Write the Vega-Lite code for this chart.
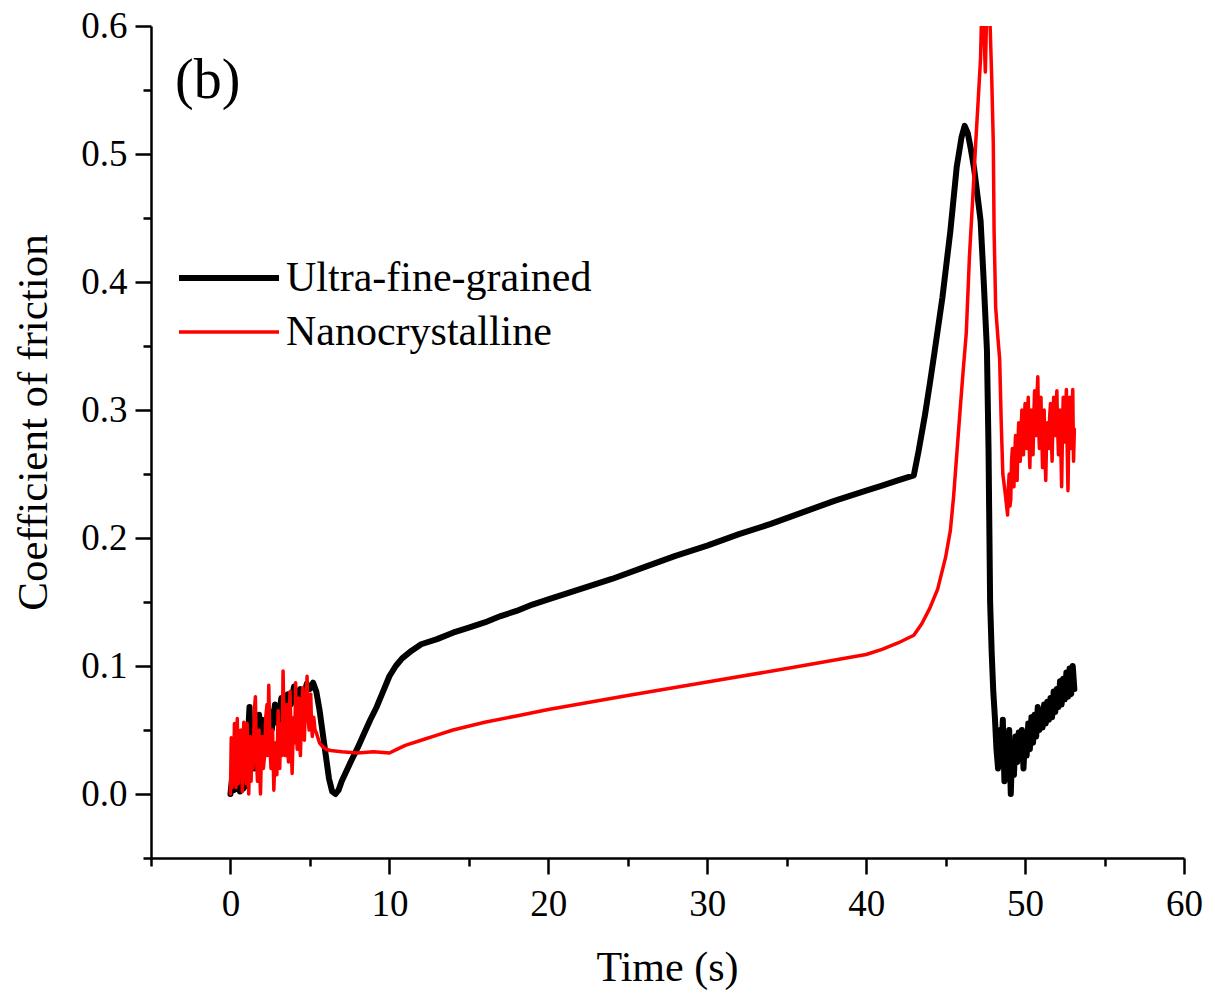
{
  "$schema": "https://vega.github.io/schema/vega-lite/v6.json",
  "autosize": "none",
  "width": 1033,
  "height": 832,
  "padding": {"left": 151, "top": 26, "right": 31, "bottom": 138},
  "background": "white",
  "title": {
    "text": "(b)",
    "anchor": "start",
    "frame": "group",
    "orient": "top",
    "offset": -70,
    "baseline": "alphabetic",
    "dx": 24,
    "dy": 77,
    "font": "Liberation Serif",
    "fontSize": 56,
    "fontWeight": "normal",
    "color": "black"
  },
  "config": {
    "font": "Liberation Serif",
    "view": {"stroke": null},
    "title": {"font": "Liberation Serif", "fontWeight": "normal"},
    "axis": {
      "grid": false,
      "domainColor": "black",
      "domainWidth": 2.5,
      "tickColor": "black",
      "tickWidth": 2.5,
      "labelFont": "Liberation Serif",
      "labelFontSize": 37,
      "labelColor": "black",
      "titleFont": "Liberation Serif",
      "titleFontWeight": "normal",
      "titleColor": "black"
    },
    "legend": {"labelFont": "Liberation Serif"}
  },
  "datasets": {
    "friction": [
      {"t": 0.0, "mu": 0.0, "s": "Ultra-fine-grained"},
      {"t": 0.1, "mu": 0.012, "s": "Ultra-fine-grained"},
      {"t": 0.2, "mu": 0.003, "s": "Ultra-fine-grained"},
      {"t": 0.3, "mu": 0.02, "s": "Ultra-fine-grained"},
      {"t": 0.4, "mu": 0.004, "s": "Ultra-fine-grained"},
      {"t": 0.5, "mu": 0.025, "s": "Ultra-fine-grained"},
      {"t": 0.6, "mu": 0.002, "s": "Ultra-fine-grained"},
      {"t": 0.7, "mu": 0.018, "s": "Ultra-fine-grained"},
      {"t": 0.8, "mu": 0.004, "s": "Ultra-fine-grained"},
      {"t": 0.9, "mu": 0.03, "s": "Ultra-fine-grained"},
      {"t": 1.0, "mu": 0.006, "s": "Ultra-fine-grained"},
      {"t": 1.1, "mu": 0.045, "s": "Ultra-fine-grained"},
      {"t": 1.2, "mu": 0.068, "s": "Ultra-fine-grained"},
      {"t": 1.3, "mu": 0.03, "s": "Ultra-fine-grained"},
      {"t": 1.4, "mu": 0.055, "s": "Ultra-fine-grained"},
      {"t": 1.5, "mu": 0.02, "s": "Ultra-fine-grained"},
      {"t": 1.6, "mu": 0.05, "s": "Ultra-fine-grained"},
      {"t": 1.7, "mu": 0.035, "s": "Ultra-fine-grained"},
      {"t": 1.8, "mu": 0.062, "s": "Ultra-fine-grained"},
      {"t": 1.9, "mu": 0.04, "s": "Ultra-fine-grained"},
      {"t": 2.0, "mu": 0.058, "s": "Ultra-fine-grained"},
      {"t": 2.2, "mu": 0.045, "s": "Ultra-fine-grained"},
      {"t": 2.4, "mu": 0.065, "s": "Ultra-fine-grained"},
      {"t": 2.6, "mu": 0.05, "s": "Ultra-fine-grained"},
      {"t": 2.8, "mu": 0.07, "s": "Ultra-fine-grained"},
      {"t": 3.0, "mu": 0.055, "s": "Ultra-fine-grained"},
      {"t": 3.2, "mu": 0.075, "s": "Ultra-fine-grained"},
      {"t": 3.4, "mu": 0.06, "s": "Ultra-fine-grained"},
      {"t": 3.6, "mu": 0.078, "s": "Ultra-fine-grained"},
      {"t": 3.8, "mu": 0.07, "s": "Ultra-fine-grained"},
      {"t": 4.0, "mu": 0.084, "s": "Ultra-fine-grained"},
      {"t": 4.2, "mu": 0.072, "s": "Ultra-fine-grained"},
      {"t": 4.4, "mu": 0.082, "s": "Ultra-fine-grained"},
      {"t": 4.6, "mu": 0.076, "s": "Ultra-fine-grained"},
      {"t": 4.8, "mu": 0.086, "s": "Ultra-fine-grained"},
      {"t": 5.0, "mu": 0.082, "s": "Ultra-fine-grained"},
      {"t": 5.2, "mu": 0.087, "s": "Ultra-fine-grained"},
      {"t": 5.4, "mu": 0.08, "s": "Ultra-fine-grained"},
      {"t": 5.6, "mu": 0.066, "s": "Ultra-fine-grained"},
      {"t": 5.8, "mu": 0.048, "s": "Ultra-fine-grained"},
      {"t": 6.0, "mu": 0.03, "s": "Ultra-fine-grained"},
      {"t": 6.2, "mu": 0.012, "s": "Ultra-fine-grained"},
      {"t": 6.4, "mu": 0.002, "s": "Ultra-fine-grained"},
      {"t": 6.6, "mu": 0.0, "s": "Ultra-fine-grained"},
      {"t": 6.8, "mu": 0.003, "s": "Ultra-fine-grained"},
      {"t": 7.0, "mu": 0.01, "s": "Ultra-fine-grained"},
      {"t": 7.3, "mu": 0.018, "s": "Ultra-fine-grained"},
      {"t": 7.6, "mu": 0.026, "s": "Ultra-fine-grained"},
      {"t": 8.0, "mu": 0.036, "s": "Ultra-fine-grained"},
      {"t": 8.4, "mu": 0.047, "s": "Ultra-fine-grained"},
      {"t": 8.8, "mu": 0.058, "s": "Ultra-fine-grained"},
      {"t": 9.2, "mu": 0.068, "s": "Ultra-fine-grained"},
      {"t": 9.6, "mu": 0.08, "s": "Ultra-fine-grained"},
      {"t": 10.0, "mu": 0.092, "s": "Ultra-fine-grained"},
      {"t": 10.4, "mu": 0.1, "s": "Ultra-fine-grained"},
      {"t": 10.8, "mu": 0.106, "s": "Ultra-fine-grained"},
      {"t": 11.4, "mu": 0.112, "s": "Ultra-fine-grained"},
      {"t": 12.0, "mu": 0.117, "s": "Ultra-fine-grained"},
      {"t": 13.0, "mu": 0.121, "s": "Ultra-fine-grained"},
      {"t": 14.0, "mu": 0.126, "s": "Ultra-fine-grained"},
      {"t": 15.0, "mu": 0.13, "s": "Ultra-fine-grained"},
      {"t": 16.0, "mu": 0.134, "s": "Ultra-fine-grained"},
      {"t": 17.0, "mu": 0.139, "s": "Ultra-fine-grained"},
      {"t": 18.0, "mu": 0.143, "s": "Ultra-fine-grained"},
      {"t": 19.0, "mu": 0.148, "s": "Ultra-fine-grained"},
      {"t": 20.0, "mu": 0.152, "s": "Ultra-fine-grained"},
      {"t": 22.0, "mu": 0.16, "s": "Ultra-fine-grained"},
      {"t": 24.0, "mu": 0.168, "s": "Ultra-fine-grained"},
      {"t": 26.0, "mu": 0.177, "s": "Ultra-fine-grained"},
      {"t": 28.0, "mu": 0.186, "s": "Ultra-fine-grained"},
      {"t": 30.0, "mu": 0.194, "s": "Ultra-fine-grained"},
      {"t": 32.0, "mu": 0.203, "s": "Ultra-fine-grained"},
      {"t": 34.0, "mu": 0.211, "s": "Ultra-fine-grained"},
      {"t": 36.0, "mu": 0.22, "s": "Ultra-fine-grained"},
      {"t": 38.0, "mu": 0.229, "s": "Ultra-fine-grained"},
      {"t": 40.0, "mu": 0.237, "s": "Ultra-fine-grained"},
      {"t": 41.0, "mu": 0.241, "s": "Ultra-fine-grained"},
      {"t": 42.0, "mu": 0.245, "s": "Ultra-fine-grained"},
      {"t": 43.0, "mu": 0.249, "s": "Ultra-fine-grained"},
      {"t": 43.3, "mu": 0.268, "s": "Ultra-fine-grained"},
      {"t": 43.7, "mu": 0.296, "s": "Ultra-fine-grained"},
      {"t": 44.0, "mu": 0.32, "s": "Ultra-fine-grained"},
      {"t": 44.3, "mu": 0.345, "s": "Ultra-fine-grained"},
      {"t": 44.8, "mu": 0.388, "s": "Ultra-fine-grained"},
      {"t": 45.3, "mu": 0.44, "s": "Ultra-fine-grained"},
      {"t": 45.7, "mu": 0.49, "s": "Ultra-fine-grained"},
      {"t": 46.0, "mu": 0.513, "s": "Ultra-fine-grained"},
      {"t": 46.2, "mu": 0.522, "s": "Ultra-fine-grained"},
      {"t": 46.4, "mu": 0.516, "s": "Ultra-fine-grained"},
      {"t": 46.6, "mu": 0.503, "s": "Ultra-fine-grained"},
      {"t": 46.8, "mu": 0.488, "s": "Ultra-fine-grained"},
      {"t": 47.0, "mu": 0.468, "s": "Ultra-fine-grained"},
      {"t": 47.2, "mu": 0.448, "s": "Ultra-fine-grained"},
      {"t": 47.4, "mu": 0.4, "s": "Ultra-fine-grained"},
      {"t": 47.6, "mu": 0.347, "s": "Ultra-fine-grained"},
      {"t": 47.7, "mu": 0.27, "s": "Ultra-fine-grained"},
      {"t": 47.8, "mu": 0.15, "s": "Ultra-fine-grained"},
      {"t": 47.9, "mu": 0.11, "s": "Ultra-fine-grained"},
      {"t": 48.0, "mu": 0.08, "s": "Ultra-fine-grained"},
      {"t": 48.1, "mu": 0.06, "s": "Ultra-fine-grained"},
      {"t": 48.2, "mu": 0.035, "s": "Ultra-fine-grained"},
      {"t": 48.3, "mu": 0.02, "s": "Ultra-fine-grained"},
      {"t": 48.4, "mu": 0.05, "s": "Ultra-fine-grained"},
      {"t": 48.5, "mu": 0.03, "s": "Ultra-fine-grained"},
      {"t": 48.6, "mu": 0.058, "s": "Ultra-fine-grained"},
      {"t": 48.7, "mu": 0.01, "s": "Ultra-fine-grained"},
      {"t": 48.8, "mu": 0.045, "s": "Ultra-fine-grained"},
      {"t": 48.9, "mu": 0.02, "s": "Ultra-fine-grained"},
      {"t": 49.0, "mu": 0.05, "s": "Ultra-fine-grained"},
      {"t": 49.1, "mu": 0.0, "s": "Ultra-fine-grained"},
      {"t": 49.2, "mu": 0.04, "s": "Ultra-fine-grained"},
      {"t": 49.3, "mu": 0.015, "s": "Ultra-fine-grained"},
      {"t": 49.4, "mu": 0.045, "s": "Ultra-fine-grained"},
      {"t": 49.5, "mu": 0.025, "s": "Ultra-fine-grained"},
      {"t": 49.6, "mu": 0.048, "s": "Ultra-fine-grained"},
      {"t": 49.7, "mu": 0.03, "s": "Ultra-fine-grained"},
      {"t": 49.8, "mu": 0.05, "s": "Ultra-fine-grained"},
      {"t": 49.9, "mu": 0.02, "s": "Ultra-fine-grained"},
      {"t": 50.0, "mu": 0.045, "s": "Ultra-fine-grained"},
      {"t": 50.1, "mu": 0.03, "s": "Ultra-fine-grained"},
      {"t": 50.2, "mu": 0.055, "s": "Ultra-fine-grained"},
      {"t": 50.3, "mu": 0.035, "s": "Ultra-fine-grained"},
      {"t": 50.4, "mu": 0.06, "s": "Ultra-fine-grained"},
      {"t": 50.5, "mu": 0.04, "s": "Ultra-fine-grained"},
      {"t": 50.6, "mu": 0.062, "s": "Ultra-fine-grained"},
      {"t": 50.7, "mu": 0.045, "s": "Ultra-fine-grained"},
      {"t": 50.8, "mu": 0.068, "s": "Ultra-fine-grained"},
      {"t": 50.9, "mu": 0.05, "s": "Ultra-fine-grained"},
      {"t": 51.0, "mu": 0.065, "s": "Ultra-fine-grained"},
      {"t": 51.1, "mu": 0.052, "s": "Ultra-fine-grained"},
      {"t": 51.2, "mu": 0.07, "s": "Ultra-fine-grained"},
      {"t": 51.3, "mu": 0.055, "s": "Ultra-fine-grained"},
      {"t": 51.4, "mu": 0.072, "s": "Ultra-fine-grained"},
      {"t": 51.5, "mu": 0.058, "s": "Ultra-fine-grained"},
      {"t": 51.6, "mu": 0.075, "s": "Ultra-fine-grained"},
      {"t": 51.7, "mu": 0.06, "s": "Ultra-fine-grained"},
      {"t": 51.8, "mu": 0.08, "s": "Ultra-fine-grained"},
      {"t": 51.9, "mu": 0.064, "s": "Ultra-fine-grained"},
      {"t": 52.0, "mu": 0.082, "s": "Ultra-fine-grained"},
      {"t": 52.1, "mu": 0.068, "s": "Ultra-fine-grained"},
      {"t": 52.2, "mu": 0.088, "s": "Ultra-fine-grained"},
      {"t": 52.3, "mu": 0.07, "s": "Ultra-fine-grained"},
      {"t": 52.4, "mu": 0.09, "s": "Ultra-fine-grained"},
      {"t": 52.5, "mu": 0.074, "s": "Ultra-fine-grained"},
      {"t": 52.6, "mu": 0.095, "s": "Ultra-fine-grained"},
      {"t": 52.7, "mu": 0.076, "s": "Ultra-fine-grained"},
      {"t": 52.8, "mu": 0.098, "s": "Ultra-fine-grained"},
      {"t": 52.9, "mu": 0.078, "s": "Ultra-fine-grained"},
      {"t": 53.0, "mu": 0.1, "s": "Ultra-fine-grained"},
      {"t": 53.1, "mu": 0.082, "s": "Ultra-fine-grained"},

      {"t": 0.0, "mu": 0.0, "s": "Nanocrystalline"},
      {"t": 0.05, "mu": 0.044, "s": "Nanocrystalline"},
      {"t": 0.1, "mu": 0.005, "s": "Nanocrystalline"},
      {"t": 0.15, "mu": 0.04, "s": "Nanocrystalline"},
      {"t": 0.2, "mu": 0.01, "s": "Nanocrystalline"},
      {"t": 0.25, "mu": 0.055, "s": "Nanocrystalline"},
      {"t": 0.3, "mu": 0.015, "s": "Nanocrystalline"},
      {"t": 0.35, "mu": 0.005, "s": "Nanocrystalline"},
      {"t": 0.43, "mu": 0.059, "s": "Nanocrystalline"},
      {"t": 0.49, "mu": 0.008, "s": "Nanocrystalline"},
      {"t": 0.55, "mu": 0.045, "s": "Nanocrystalline"},
      {"t": 0.6, "mu": 0.015, "s": "Nanocrystalline"},
      {"t": 0.65, "mu": 0.05, "s": "Nanocrystalline"},
      {"t": 0.7, "mu": 0.02, "s": "Nanocrystalline"},
      {"t": 0.75, "mu": 0.002, "s": "Nanocrystalline"},
      {"t": 0.8, "mu": 0.04, "s": "Nanocrystalline"},
      {"t": 0.84, "mu": 0.056, "s": "Nanocrystalline"},
      {"t": 0.9, "mu": 0.012, "s": "Nanocrystalline"},
      {"t": 0.95, "mu": 0.035, "s": "Nanocrystalline"},
      {"t": 1.0, "mu": 0.008, "s": "Nanocrystalline"},
      {"t": 1.05, "mu": 0.055, "s": "Nanocrystalline"},
      {"t": 1.1, "mu": 0.02, "s": "Nanocrystalline"},
      {"t": 1.15, "mu": 0.0, "s": "Nanocrystalline"},
      {"t": 1.2, "mu": 0.03, "s": "Nanocrystalline"},
      {"t": 1.25, "mu": 0.045, "s": "Nanocrystalline"},
      {"t": 1.3, "mu": 0.01, "s": "Nanocrystalline"},
      {"t": 1.35, "mu": 0.04, "s": "Nanocrystalline"},
      {"t": 1.42, "mu": 0.02, "s": "Nanocrystalline"},
      {"t": 1.5, "mu": 0.065, "s": "Nanocrystalline"},
      {"t": 1.57, "mu": 0.076, "s": "Nanocrystalline"},
      {"t": 1.63, "mu": 0.03, "s": "Nanocrystalline"},
      {"t": 1.7, "mu": 0.01, "s": "Nanocrystalline"},
      {"t": 1.75, "mu": 0.04, "s": "Nanocrystalline"},
      {"t": 1.8, "mu": 0.05, "s": "Nanocrystalline"},
      {"t": 1.85, "mu": 0.015, "s": "Nanocrystalline"},
      {"t": 1.89, "mu": 0.0, "s": "Nanocrystalline"},
      {"t": 1.95, "mu": 0.035, "s": "Nanocrystalline"},
      {"t": 2.0, "mu": 0.045, "s": "Nanocrystalline"},
      {"t": 2.07, "mu": 0.02, "s": "Nanocrystalline"},
      {"t": 2.15, "mu": 0.03, "s": "Nanocrystalline"},
      {"t": 2.22, "mu": 0.06, "s": "Nanocrystalline"},
      {"t": 2.3, "mu": 0.07, "s": "Nanocrystalline"},
      {"t": 2.35, "mu": 0.03, "s": "Nanocrystalline"},
      {"t": 2.41, "mu": 0.085, "s": "Nanocrystalline"},
      {"t": 2.48, "mu": 0.04, "s": "Nanocrystalline"},
      {"t": 2.55, "mu": 0.02, "s": "Nanocrystalline"},
      {"t": 2.6, "mu": 0.045, "s": "Nanocrystalline"},
      {"t": 2.65, "mu": 0.05, "s": "Nanocrystalline"},
      {"t": 2.73, "mu": 0.003, "s": "Nanocrystalline"},
      {"t": 2.8, "mu": 0.03, "s": "Nanocrystalline"},
      {"t": 2.85, "mu": 0.04, "s": "Nanocrystalline"},
      {"t": 2.92, "mu": 0.015, "s": "Nanocrystalline"},
      {"t": 3.0, "mu": 0.065, "s": "Nanocrystalline"},
      {"t": 3.05, "mu": 0.035, "s": "Nanocrystalline"},
      {"t": 3.1, "mu": 0.02, "s": "Nanocrystalline"},
      {"t": 3.15, "mu": 0.05, "s": "Nanocrystalline"},
      {"t": 3.2, "mu": 0.055, "s": "Nanocrystalline"},
      {"t": 3.25, "mu": 0.03, "s": "Nanocrystalline"},
      {"t": 3.31, "mu": 0.096, "s": "Nanocrystalline"},
      {"t": 3.38, "mu": 0.05, "s": "Nanocrystalline"},
      {"t": 3.45, "mu": 0.03, "s": "Nanocrystalline"},
      {"t": 3.5, "mu": 0.06, "s": "Nanocrystalline"},
      {"t": 3.55, "mu": 0.07, "s": "Nanocrystalline"},
      {"t": 3.6, "mu": 0.04, "s": "Nanocrystalline"},
      {"t": 3.65, "mu": 0.025, "s": "Nanocrystalline"},
      {"t": 3.7, "mu": 0.06, "s": "Nanocrystalline"},
      {"t": 3.75, "mu": 0.08, "s": "Nanocrystalline"},
      {"t": 3.82, "mu": 0.04, "s": "Nanocrystalline"},
      {"t": 3.88, "mu": 0.016, "s": "Nanocrystalline"},
      {"t": 3.94, "mu": 0.045, "s": "Nanocrystalline"},
      {"t": 4.0, "mu": 0.06, "s": "Nanocrystalline"},
      {"t": 4.05, "mu": 0.04, "s": "Nanocrystalline"},
      {"t": 4.1, "mu": 0.087, "s": "Nanocrystalline"},
      {"t": 4.15, "mu": 0.05, "s": "Nanocrystalline"},
      {"t": 4.2, "mu": 0.035, "s": "Nanocrystalline"},
      {"t": 4.25, "mu": 0.06, "s": "Nanocrystalline"},
      {"t": 4.3, "mu": 0.075, "s": "Nanocrystalline"},
      {"t": 4.35, "mu": 0.045, "s": "Nanocrystalline"},
      {"t": 4.4, "mu": 0.03, "s": "Nanocrystalline"},
      {"t": 4.47, "mu": 0.06, "s": "Nanocrystalline"},
      {"t": 4.55, "mu": 0.083, "s": "Nanocrystalline"},
      {"t": 4.6, "mu": 0.055, "s": "Nanocrystalline"},
      {"t": 4.65, "mu": 0.042, "s": "Nanocrystalline"},
      {"t": 4.7, "mu": 0.065, "s": "Nanocrystalline"},
      {"t": 4.75, "mu": 0.07, "s": "Nanocrystalline"},
      {"t": 4.82, "mu": 0.092, "s": "Nanocrystalline"},
      {"t": 4.88, "mu": 0.06, "s": "Nanocrystalline"},
      {"t": 4.95, "mu": 0.05, "s": "Nanocrystalline"},
      {"t": 5.0, "mu": 0.07, "s": "Nanocrystalline"},
      {"t": 5.05, "mu": 0.078, "s": "Nanocrystalline"},
      {"t": 5.1, "mu": 0.055, "s": "Nanocrystalline"},
      {"t": 5.15, "mu": 0.045, "s": "Nanocrystalline"},
      {"t": 5.24, "mu": 0.06, "s": "Nanocrystalline"},
      {"t": 5.32, "mu": 0.05, "s": "Nanocrystalline"},
      {"t": 5.4, "mu": 0.048, "s": "Nanocrystalline"},
      {"t": 5.6, "mu": 0.04, "s": "Nanocrystalline"},
      {"t": 5.8, "mu": 0.037, "s": "Nanocrystalline"},
      {"t": 6.0, "mu": 0.035, "s": "Nanocrystalline"},
      {"t": 6.3, "mu": 0.034, "s": "Nanocrystalline"},
      {"t": 7.0, "mu": 0.033, "s": "Nanocrystalline"},
      {"t": 8.0, "mu": 0.032, "s": "Nanocrystalline"},
      {"t": 9.0, "mu": 0.033, "s": "Nanocrystalline"},
      {"t": 10.0, "mu": 0.032, "s": "Nanocrystalline"},
      {"t": 10.5, "mu": 0.035, "s": "Nanocrystalline"},
      {"t": 11.0, "mu": 0.038, "s": "Nanocrystalline"},
      {"t": 12.0, "mu": 0.042, "s": "Nanocrystalline"},
      {"t": 13.0, "mu": 0.046, "s": "Nanocrystalline"},
      {"t": 14.0, "mu": 0.05, "s": "Nanocrystalline"},
      {"t": 16.0, "mu": 0.056, "s": "Nanocrystalline"},
      {"t": 18.0, "mu": 0.061, "s": "Nanocrystalline"},
      {"t": 20.0, "mu": 0.066, "s": "Nanocrystalline"},
      {"t": 25.0, "mu": 0.077, "s": "Nanocrystalline"},
      {"t": 30.0, "mu": 0.0875, "s": "Nanocrystalline"},
      {"t": 35.0, "mu": 0.098, "s": "Nanocrystalline"},
      {"t": 40.0, "mu": 0.109, "s": "Nanocrystalline"},
      {"t": 41.0, "mu": 0.113, "s": "Nanocrystalline"},
      {"t": 42.0, "mu": 0.118, "s": "Nanocrystalline"},
      {"t": 43.0, "mu": 0.124, "s": "Nanocrystalline"},
      {"t": 43.5, "mu": 0.133, "s": "Nanocrystalline"},
      {"t": 44.0, "mu": 0.145, "s": "Nanocrystalline"},
      {"t": 44.5, "mu": 0.16, "s": "Nanocrystalline"},
      {"t": 45.0, "mu": 0.185, "s": "Nanocrystalline"},
      {"t": 45.3, "mu": 0.206, "s": "Nanocrystalline"},
      {"t": 45.5, "mu": 0.232, "s": "Nanocrystalline"},
      {"t": 45.7, "mu": 0.265, "s": "Nanocrystalline"},
      {"t": 45.9, "mu": 0.298, "s": "Nanocrystalline"},
      {"t": 46.1, "mu": 0.33, "s": "Nanocrystalline"},
      {"t": 46.3, "mu": 0.36, "s": "Nanocrystalline"},
      {"t": 46.5, "mu": 0.42, "s": "Nanocrystalline"},
      {"t": 46.7, "mu": 0.464, "s": "Nanocrystalline"},
      {"t": 46.9, "mu": 0.51, "s": "Nanocrystalline"},
      {"t": 47.05, "mu": 0.542, "s": "Nanocrystalline"},
      {"t": 47.2, "mu": 0.575, "s": "Nanocrystalline"},
      {"t": 47.3, "mu": 0.63, "s": "Nanocrystalline"},
      {"t": 47.4, "mu": 0.6, "s": "Nanocrystalline"},
      {"t": 47.5, "mu": 0.564, "s": "Nanocrystalline"},
      {"t": 47.6, "mu": 0.62, "s": "Nanocrystalline"},
      {"t": 47.7, "mu": 0.64, "s": "Nanocrystalline"},
      {"t": 47.8, "mu": 0.6, "s": "Nanocrystalline"},
      {"t": 47.9, "mu": 0.56, "s": "Nanocrystalline"},
      {"t": 48.0, "mu": 0.509, "s": "Nanocrystalline"},
      {"t": 48.05, "mu": 0.44, "s": "Nanocrystalline"},
      {"t": 48.15, "mu": 0.38, "s": "Nanocrystalline"},
      {"t": 48.3, "mu": 0.355, "s": "Nanocrystalline"},
      {"t": 48.4, "mu": 0.34, "s": "Nanocrystalline"},
      {"t": 48.5, "mu": 0.29, "s": "Nanocrystalline"},
      {"t": 48.6, "mu": 0.25, "s": "Nanocrystalline"},
      {"t": 48.75, "mu": 0.235, "s": "Nanocrystalline"},
      {"t": 48.9, "mu": 0.218, "s": "Nanocrystalline"},
      {"t": 48.95, "mu": 0.24, "s": "Nanocrystalline"},
      {"t": 49.0, "mu": 0.25, "s": "Nanocrystalline"},
      {"t": 49.05, "mu": 0.225, "s": "Nanocrystalline"},
      {"t": 49.1, "mu": 0.23, "s": "Nanocrystalline"},
      {"t": 49.15, "mu": 0.26, "s": "Nanocrystalline"},
      {"t": 49.2, "mu": 0.27, "s": "Nanocrystalline"},
      {"t": 49.25, "mu": 0.25, "s": "Nanocrystalline"},
      {"t": 49.3, "mu": 0.24, "s": "Nanocrystalline"},
      {"t": 49.35, "mu": 0.265, "s": "Nanocrystalline"},
      {"t": 49.4, "mu": 0.28, "s": "Nanocrystalline"},
      {"t": 49.45, "mu": 0.26, "s": "Nanocrystalline"},
      {"t": 49.5, "mu": 0.245, "s": "Nanocrystalline"},
      {"t": 49.55, "mu": 0.275, "s": "Nanocrystalline"},
      {"t": 49.6, "mu": 0.29, "s": "Nanocrystalline"},
      {"t": 49.65, "mu": 0.27, "s": "Nanocrystalline"},
      {"t": 49.7, "mu": 0.26, "s": "Nanocrystalline"},
      {"t": 49.75, "mu": 0.285, "s": "Nanocrystalline"},
      {"t": 49.8, "mu": 0.3, "s": "Nanocrystalline"},
      {"t": 49.85, "mu": 0.27, "s": "Nanocrystalline"},
      {"t": 49.9, "mu": 0.265, "s": "Nanocrystalline"},
      {"t": 49.95, "mu": 0.29, "s": "Nanocrystalline"},
      {"t": 50.0, "mu": 0.305, "s": "Nanocrystalline"},
      {"t": 50.05, "mu": 0.28, "s": "Nanocrystalline"},
      {"t": 50.1, "mu": 0.27, "s": "Nanocrystalline"},
      {"t": 50.15, "mu": 0.295, "s": "Nanocrystalline"},
      {"t": 50.2, "mu": 0.31, "s": "Nanocrystalline"},
      {"t": 50.25, "mu": 0.275, "s": "Nanocrystalline"},
      {"t": 50.3, "mu": 0.255, "s": "Nanocrystalline"},
      {"t": 50.35, "mu": 0.285, "s": "Nanocrystalline"},
      {"t": 50.4, "mu": 0.3, "s": "Nanocrystalline"},
      {"t": 50.45, "mu": 0.28, "s": "Nanocrystalline"},
      {"t": 50.5, "mu": 0.265, "s": "Nanocrystalline"},
      {"t": 50.55, "mu": 0.295, "s": "Nanocrystalline"},
      {"t": 50.6, "mu": 0.315, "s": "Nanocrystalline"},
      {"t": 50.65, "mu": 0.29, "s": "Nanocrystalline"},
      {"t": 50.7, "mu": 0.28, "s": "Nanocrystalline"},
      {"t": 50.75, "mu": 0.31, "s": "Nanocrystalline"},
      {"t": 50.8, "mu": 0.326, "s": "Nanocrystalline"},
      {"t": 50.85, "mu": 0.29, "s": "Nanocrystalline"},
      {"t": 50.9, "mu": 0.27, "s": "Nanocrystalline"},
      {"t": 50.95, "mu": 0.295, "s": "Nanocrystalline"},
      {"t": 51.0, "mu": 0.31, "s": "Nanocrystalline"},
      {"t": 51.05, "mu": 0.28, "s": "Nanocrystalline"},
      {"t": 51.1, "mu": 0.255, "s": "Nanocrystalline"},
      {"t": 51.15, "mu": 0.285, "s": "Nanocrystalline"},
      {"t": 51.2, "mu": 0.3, "s": "Nanocrystalline"},
      {"t": 51.25, "mu": 0.27, "s": "Nanocrystalline"},
      {"t": 51.3, "mu": 0.245, "s": "Nanocrystalline"},
      {"t": 51.35, "mu": 0.275, "s": "Nanocrystalline"},
      {"t": 51.4, "mu": 0.29, "s": "Nanocrystalline"},
      {"t": 51.45, "mu": 0.285, "s": "Nanocrystalline"},
      {"t": 51.5, "mu": 0.27, "s": "Nanocrystalline"},
      {"t": 51.55, "mu": 0.295, "s": "Nanocrystalline"},
      {"t": 51.6, "mu": 0.305, "s": "Nanocrystalline"},
      {"t": 51.65, "mu": 0.28, "s": "Nanocrystalline"},
      {"t": 51.7, "mu": 0.26, "s": "Nanocrystalline"},
      {"t": 51.75, "mu": 0.29, "s": "Nanocrystalline"},
      {"t": 51.8, "mu": 0.31, "s": "Nanocrystalline"},
      {"t": 51.85, "mu": 0.29, "s": "Nanocrystalline"},
      {"t": 51.9, "mu": 0.28, "s": "Nanocrystalline"},
      {"t": 51.95, "mu": 0.3, "s": "Nanocrystalline"},
      {"t": 52.0, "mu": 0.315, "s": "Nanocrystalline"},
      {"t": 52.05, "mu": 0.285, "s": "Nanocrystalline"},
      {"t": 52.1, "mu": 0.265, "s": "Nanocrystalline"},
      {"t": 52.15, "mu": 0.29, "s": "Nanocrystalline"},
      {"t": 52.2, "mu": 0.3, "s": "Nanocrystalline"},
      {"t": 52.25, "mu": 0.27, "s": "Nanocrystalline"},
      {"t": 52.3, "mu": 0.24, "s": "Nanocrystalline"},
      {"t": 52.35, "mu": 0.28, "s": "Nanocrystalline"},
      {"t": 52.4, "mu": 0.31, "s": "Nanocrystalline"},
      {"t": 52.45, "mu": 0.29, "s": "Nanocrystalline"},
      {"t": 52.5, "mu": 0.275, "s": "Nanocrystalline"},
      {"t": 52.55, "mu": 0.3, "s": "Nanocrystalline"},
      {"t": 52.6, "mu": 0.316, "s": "Nanocrystalline"},
      {"t": 52.65, "mu": 0.27, "s": "Nanocrystalline"},
      {"t": 52.7, "mu": 0.237, "s": "Nanocrystalline"},
      {"t": 52.75, "mu": 0.28, "s": "Nanocrystalline"},
      {"t": 52.8, "mu": 0.31, "s": "Nanocrystalline"},
      {"t": 52.85, "mu": 0.29, "s": "Nanocrystalline"},
      {"t": 52.9, "mu": 0.27, "s": "Nanocrystalline"},
      {"t": 52.95, "mu": 0.3, "s": "Nanocrystalline"},
      {"t": 53.0, "mu": 0.316, "s": "Nanocrystalline"},
      {"t": 53.05, "mu": 0.26, "s": "Nanocrystalline"},
      {"t": 53.1, "mu": 0.285, "s": "Nanocrystalline"}
    ]
  },
  "data": {"name": "friction"},
  "encoding": {
    "x": {
      "field": "t",
      "type": "quantitative",
      "scale": {"domain": [-5, 60], "nice": false, "zero": false},
      "axis": {
        "title": "Time (s)",
        "titleFont": "Liberation Serif",
        "titleFontSize": 42,
        "values": [-5, 0, 5, 10, 15, 20, 25, 30, 35, 40, 45, 50, 55, 60],
        "format": "d",
        "labelExpr": "datum.value % 10 === 0 ? datum.label : ''",
        "tickSize": {"condition": {"test": "datum.value % 10 !== 0", "value": 8}, "value": 16},
        "labelPadding": 12,
        "labelFlush": false,
        "labelOverlap": false,
        "titleX": 516,
        "titleY": 109,
        "titleAlign": "center",
        "titleBaseline": "middle"
      }
    },
    "y": {
      "field": "mu",
      "type": "quantitative",
      "scale": {"domain": [-0.05, 0.6], "nice": false, "zero": false},
      "axis": {
        "title": "Coefficient of friction",
        "titleFont": "Liberation Serif",
        "titleFontSize": 43,
        "values": [-0.05, 0, 0.05, 0.1, 0.15, 0.2, 0.25, 0.3, 0.35, 0.4, 0.45, 0.5, 0.55, 0.6],
        "labelExpr": "abs(round(datum.value * 20)) % 2 == 0 ? format(datum.value, '.1f') : ''",
        "tickSize": {"condition": {"test": "abs(round(datum.value * 20)) % 2 == 1", "value": 8}, "value": 16},
        "labelPadding": 8,
        "labelFlush": false,
        "labelOverlap": false,
        "titleX": -118,
        "titleY": 396,
        "titleAngle": -90,
        "titleAlign": "center",
        "titleBaseline": "middle"
      }
    },
    "color": {
      "field": "s",
      "type": "nominal",
      "scale": {"domain": ["Ultra-fine-grained", "Nanocrystalline"], "range": ["#000000", "#ff0000"]},
      "legend": {
        "title": null,
        "orient": "none",
        "legendX": 57,
        "legendY": 231,
        "padding": 0,
        "symbolType": "M-25,0H25",
        "symbolSize": 16,
        "labelFont": "Liberation Serif",
        "labelFontSize": 42,
        "labelColor": "black",
        "labelOffset": 36,
        "labelLimit": 600,
        "rowPadding": 12
      }
    },
    "strokeWidth": {
      "field": "s",
      "type": "nominal",
      "scale": {"domain": ["Ultra-fine-grained", "Nanocrystalline"], "range": [6, 3.5]},
      "legend": null
    }
  },
  "layer": [
    {
      "transform": [{"filter": "datum.s === 'Ultra-fine-grained'"}],
      "mark": {"type": "line", "clip": true, "strokeJoin": "round", "strokeCap": "round"}
    },
    {
      "transform": [{"filter": "datum.s === 'Nanocrystalline'"}],
      "mark": {"type": "line", "clip": true, "strokeJoin": "round", "strokeCap": "round"}
    }
  ]
}
